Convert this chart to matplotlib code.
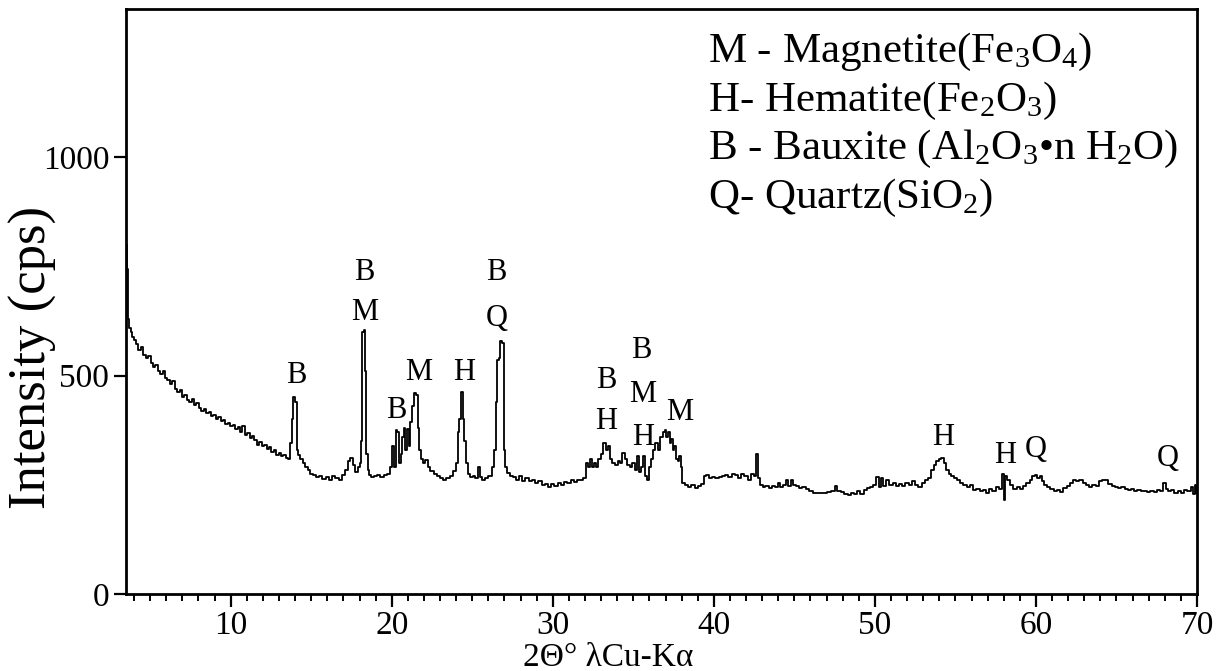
import matplotlib
matplotlib.use("Agg")
import matplotlib.pyplot as plt
from matplotlib.ticker import MultipleLocator

plt.rcParams["font.family"] = ["Liberation Serif", "DejaVu Serif"]
plt.rcParams["mathtext.fontset"] = "custom"
plt.rcParams["mathtext.rm"] = "Liberation Serif"

# XRD pattern, 2-theta (deg) vs intensity (cps)
two_theta = [
    3.50, 3.53, 3.56, 3.60, 3.65, 3.75, 3.85, 3.95, 4.05, 4.20, 4.35, 4.50, 4.65, 4.80, 4.95,
    5.10, 5.25, 5.40, 5.55, 5.70, 5.85, 6.00, 6.15, 6.30, 6.45, 6.60, 6.75, 6.90, 7.05, 7.20,
    7.35, 7.50, 7.65, 7.80, 7.95, 8.10, 8.25, 8.40, 8.55, 8.70, 8.85, 9.00, 9.15, 9.30, 9.45,
    9.60, 9.75, 9.90, 10.05, 10.20, 10.35, 10.50, 10.65, 10.80, 10.95, 11.10, 11.25, 11.40,
    11.55, 11.70, 11.85, 12.00, 12.15, 12.30, 12.45, 12.60, 12.75, 12.90, 13.05, 13.20, 13.35,
    13.50, 13.65, 13.75, 13.85, 13.95, 14.05, 14.15, 14.25, 14.40, 14.55, 14.70, 14.85, 15.00,
    15.20, 15.40, 15.60, 15.80, 16.00, 16.20, 16.40, 16.60, 16.80, 17.00, 17.20, 17.35, 17.50,
    17.65, 17.80, 17.95, 18.05, 18.10, 18.15, 18.20, 18.30, 18.35, 18.40, 18.45, 18.55, 18.65,
    18.80, 19.00, 19.20,
    19.40, 19.60, 19.80, 19.95, 20.10, 20.20, 20.30, 20.40, 20.50, 20.60, 20.70, 20.80, 20.90,
    21.00, 21.10, 21.20, 21.35, 21.45, 21.55, 21.65, 21.75, 21.85, 22.00, 22.15, 22.30, 22.50,
    22.70, 22.90, 23.10, 23.30, 23.50, 23.70, 23.90, 24.05, 24.15, 24.25, 24.35, 24.45, 24.55,
    24.65, 24.80, 24.95, 25.10, 25.30, 25.40, 25.50, 25.70, 25.90, 26.10, 26.30, 26.40, 26.50,
    26.60, 26.70, 26.80, 26.90, 27.00, 27.10, 27.25, 27.40, 27.60, 27.80, 28.00, 28.20, 28.40,
    28.60, 28.80, 29.00, 29.20, 29.40, 29.60, 29.80, 30.00, 30.20, 30.40, 30.60, 30.80, 31.00,
    31.20, 31.40, 31.60, 31.80, 32.00, 32.15, 32.25, 32.40, 32.50, 32.60, 32.75, 32.90, 33.05,
    33.20, 33.35, 33.50, 33.60, 33.80, 33.95, 34.10, 34.25, 34.40, 34.55, 34.70, 34.85, 35.00,
    35.15, 35.30, 35.45, 35.55, 35.65, 35.75, 35.90, 36.00, 36.15, 36.30, 36.45, 36.60, 36.75,
    36.90, 37.00, 37.10, 37.20, 37.30, 37.40, 37.50, 37.60, 37.70, 37.80, 37.90, 38.00, 38.10,
    38.30, 38.50, 38.70, 38.90, 39.10, 39.30, 39.45, 39.60, 39.80, 40.00, 40.20, 40.40, 40.60,
    40.80, 41.00, 41.20, 41.40, 41.60, 41.80, 42.00, 42.20, 42.40, 42.55, 42.70, 42.80, 42.95,
    43.10, 43.30, 43.50, 43.70, 43.90, 44.05, 44.20, 44.40, 44.55, 44.70, 44.85, 45.00, 45.20,
    45.40, 45.60, 45.80, 46.00, 46.30, 46.60, 46.90, 47.20, 47.40, 47.60, 47.75, 48.00, 48.20,
    48.40, 48.60, 48.80, 49.00, 49.20, 49.40, 49.60, 49.80, 50.00, 50.15, 50.30, 50.45, 50.60,
    50.80, 51.00, 51.20, 51.40, 51.60, 51.80, 52.00, 52.20, 52.40, 52.60, 52.80, 53.00, 53.20,
    53.40, 53.60, 53.75, 53.90, 54.05, 54.20, 54.35, 54.50, 54.65, 54.80, 55.00, 55.20, 55.40,
    55.60, 55.80, 56.00, 56.20, 56.40, 56.60, 56.80, 57.00, 57.20, 57.40, 57.60, 57.80, 57.95,
    58.05, 58.15, 58.30, 58.50, 58.70, 58.90, 59.10, 59.30, 59.50, 59.70, 59.85, 60.00, 60.15,
    60.30, 60.45, 60.60, 60.80, 61.00, 61.20, 61.40, 61.60, 61.80, 62.00, 62.20, 62.40, 62.60,
    62.80, 63.00, 63.20, 63.40, 63.60, 63.80, 64.00, 64.20, 64.40, 64.60, 64.80, 65.00, 65.20,
    65.40, 65.60, 65.80, 66.00, 66.20, 66.40, 66.60, 66.80, 67.00, 67.20, 67.40, 67.60, 67.80,
    68.00, 68.10, 68.30, 68.50, 68.70, 68.90, 69.10, 69.30, 69.50, 69.70, 69.80, 69.90, 70.00,
]
intensity = [
    800, 800, 640, 745, 630, 610, 600, 588, 582, 572, 560, 565, 548, 540, 545,
    528, 520, 525, 510, 505, 510, 495, 490, 482, 488, 470, 462, 468, 452, 456,
    445, 440, 446, 432, 438, 426, 420, 424, 415, 418, 408, 410, 402, 405, 396,
    398, 390, 392, 385, 388, 378, 382, 372, 385, 365, 368, 358, 362,
    352, 342, 348, 338, 341, 333, 336, 326, 330, 318, 322, 315, 318,
    312, 310, 345, 400, 452, 440, 330, 318, 310, 300, 292, 283, 276,
    272, 268, 270, 264, 268, 262, 270, 265, 262, 272, 285, 305, 312,
    295, 280, 290, 300, 350, 420, 600, 604, 510, 420, 320, 285, 272,
    268, 270, 272,
    268, 272, 275, 290, 340, 290, 375, 370, 300, 320, 360, 380, 330,
    378, 340, 395, 430, 460, 455, 380, 330, 310, 300, 308, 290, 282,
    276, 270, 265, 262, 266, 270, 282, 300, 370, 400, 462, 400, 350,
    300, 275, 268, 270, 265, 290, 268, 262, 265, 270, 290, 330, 440,
    535, 540, 580, 575, 330, 290, 278, 270, 268, 262, 270, 258, 266,
    258, 262, 255, 258, 250, 252, 245, 252, 248, 254, 250, 257, 254,
    260, 256, 262, 260, 265, 300, 290, 310, 290, 300, 290, 310, 320,
    345, 330, 340, 310, 300, 295, 305, 300, 322, 310, 295, 290, 300,
    285, 315, 280, 290, 315, 270, 262, 290, 310, 330, 345, 330, 360,
    372, 375, 360, 370, 345, 355, 330, 340, 310, 305, 315, 290, 255,
    250, 245, 250, 242, 248, 252, 270, 272, 266, 268, 265, 268, 270,
    272, 268, 274, 272, 266, 275, 270, 262, 275, 270, 320, 265, 250,
    245, 248, 243, 247, 245, 255, 245, 250, 262, 248, 260, 250, 248,
    243, 245, 240, 235, 232, 232, 232, 233, 235, 248, 235, 233, 230,
    227, 232, 230, 235, 230, 238, 242, 246, 250, 268, 245, 265, 248,
    262, 250, 255, 248, 252, 247, 255, 250, 258, 250, 245, 255, 260,
    265, 285, 295, 305, 310, 312, 300, 285, 275, 270, 265, 260, 255,
    250, 245, 250, 238, 240, 235, 238, 232, 240, 235, 245, 240, 275,
    215, 270, 262, 250, 240, 245, 240, 248, 255, 262, 270, 272, 265,
    270, 258, 250, 245, 240, 236, 238, 233, 242, 248, 255, 260, 258,
    262, 255, 250, 245, 250, 248, 258, 262, 260, 252, 248, 245, 242,
    245, 240, 238, 240, 236, 238, 235, 237, 234, 236, 233, 238, 235,
    254, 240, 236, 238, 232, 236, 231, 238, 235, 245, 230, 250, 232,
]

# Phase identification labels above the peaks
peak_labels = ["B", "B", "M", "B", "M", "H", "B", "Q", "B", "H",
               "B", "M", "H", "M", "H", "H", "Q", "Q"]
label_theta = [14.1, 18.3, 18.3, 20.3, 21.7, 24.5, 26.5, 26.5, 33.3, 33.3,
               35.5, 35.6, 35.6, 37.9, 54.25, 58.1, 60.0, 68.2]
label_height = [501, 737, 645, 421, 508, 508, 737, 632, 490, 394,
                558, 458, 359, 416, 359, 318, 330, 311]

legend_lines = [
    r"M - Magnetite(Fe$\mathregular{_3}$O$\mathregular{_4}$)",
    r"H- Hematite(Fe$\mathregular{_2}$O$\mathregular{_3}$)",
    r"B - Bauxite (Al$\mathregular{_2}$O$\mathregular{_3}$•n H$\mathregular{_2}$O)",
    r"Q- Quartz(SiO$\mathregular{_2}$)",
]

W, H = 1222, 671
fig = plt.figure(figsize=(W / 100, H / 100), dpi=100)
ax = fig.add_axes([126 / W, 1 - 594 / H, (1197 - 126) / W, (594 - 9) / H])

ax.plot(two_theta, intensity, color="black", lw=1.3, drawstyle="steps-mid")

ax.set_xlim(3.5, 70)
ax.set_ylim(0, 1340)
ax.set_xticks([10, 20, 30, 40, 50, 60, 70])
ax.xaxis.set_minor_locator(MultipleLocator(1))
ax.set_yticks([0, 500, 1000])

for s in ax.spines.values():
    s.set_linewidth(2.0)

ax.tick_params(axis="both", which="major", direction="out", length=9, width=1.6,
               labelsize=24, pad=3)
ax.tick_params(axis="x", which="minor", direction="out", length=5, width=1.4)

for lab, xt, yt in zip(peak_labels, label_theta, label_height):
    ax.text(xt, yt, lab, ha="center", va="center", fontsize=22)

legend_baselines = [62, 111, 159, 208]
for line, yb in zip(legend_lines, legend_baselines):
    ax.text(0.543, (594 - yb) / 585, line, transform=ax.transAxes,
            ha="left", va="baseline", fontsize=31)

ax.text(-0.087, 0.405, "Intensity (cps)", transform=ax.transAxes, rotation=90,
        ha="center", va="center", fontsize=38)
ax.text(0.45, -0.083, "2Θ° λCu-Kα", transform=ax.transAxes,
        ha="center", va="top", fontsize=24)

fig.savefig("out.png", dpi=100)
